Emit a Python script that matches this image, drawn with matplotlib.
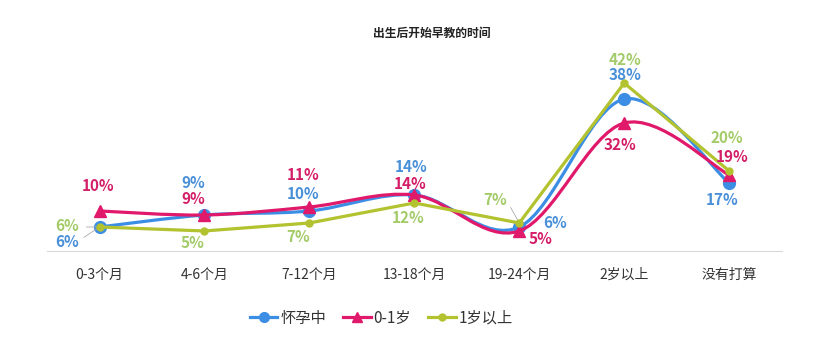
import matplotlib
matplotlib.use('Agg')
import matplotlib.pyplot as plt
from matplotlib.path import Path
from matplotlib.patches import PathPatch
from matplotlib.lines import Line2D

plt.rcParams['font.family'] = ['Noto Sans CJK SC', 'DejaVu Sans']

title = '出生后开始早教的时间'
categories = ['0-3个月', '4-6个月', '7-12个月', '13-18个月', '19-24个月', '2岁以上', '没有打算']
series_names = ['怀孕中', '0-1岁', '1岁以上']
pregnant = [6, 9, 10, 14, 6, 38, 17]
age_0_1 = [10, 9, 11, 14, 5, 32, 19]
age_1_plus = [6, 5, 7, 12, 7, 42, 20]

blue = '#3c8ee4'
pink = '#e0196b'
green = '#b3c22f'
blue_txt = '#4a90d9'
pink_txt = '#d41f68'
green_txt = '#a3cb69'


def smooth_path(xs, ys):
    # bezier smoothing similar to office charts
    pts = list(zip(xs, ys))
    verts = [pts[0]]
    codes = [Path.MOVETO]
    n = len(pts)
    for i in range(n - 1):
        p0 = pts[i - 1] if i > 0 else pts[i]
        p1 = pts[i]
        p2 = pts[i + 1]
        p3 = pts[i + 2] if i + 2 < n else pts[i + 1]
        c1 = (p1[0] + (p2[0] - p0[0]) / 6, p1[1] + (p2[1] - p0[1]) / 6)
        c2 = (p2[0] - (p3[0] - p1[0]) / 6, p2[1] - (p3[1] - p1[1]) / 6)
        verts += [c1, c2, p2]
        codes += [Path.CURVE4] * 3
    return Path(verts, codes)


fig = plt.figure(figsize=(8.31, 3.57), dpi=100)
ax = fig.add_axes([0.0566, 0.297, 0.884, 0.56])
x = list(range(len(categories)))

ax.add_patch(PathPatch(smooth_path(x, pregnant), fill=False, edgecolor=blue, lw=2.3, zorder=2))
ax.plot(x, pregnant, 'o', color=blue, ms=8.5, zorder=3)
ax.add_patch(PathPatch(smooth_path(x, age_0_1), fill=False, edgecolor=pink, lw=2.3, zorder=4))
ax.plot(x, age_0_1, '^', color=pink, ms=8.5, zorder=5)
ax.plot(x, age_1_plus, '-o', color=green, lw=2.3, ms=5, zorder=6)

# label offsets in pixels (dx, dy)
blue_off = [(-32, -15), (-11, 32), (-6, 17), (-3, 28), (36, 4), (1, 24), (-7, -17)]
pink_off = [(-1, 25), (-11, 16), (-6, 32), (-4, 11), (21, -8), (-4, -22), (3, 18)]
green_off = [(-32, 1), (-12, -12), (-11, -14), (-6, -15), (-24, 23), (1, 23), (-2, 33)]

for vals, offs, col in [(pregnant, blue_off, blue_txt), (age_0_1, pink_off, pink_txt),
                        (age_1_plus, green_off, green_txt)]:
    for xi, v, (dx, dy) in zip(x, vals, offs):
        ax.annotate(f'{v}%', (xi, v), xytext=(dx, dy), textcoords='offset pixels',
                    ha='center', va='center', color=col, fontsize=11, fontweight='bold',
                    zorder=7)

# small leader lines
for (xi, v), (dx, dy) in [((0, 6), (-18, -12)), ((0, 6), (-16, 0)), ((4, 7), (-10, 18))]:
    ax.annotate('', (xi, v), xytext=(dx, dy), textcoords='offset pixels',
                arrowprops=dict(arrowstyle='-', color='#aaaaaa', lw=0.6))

ax.set_xlim(-0.5, 6.5)
ax.set_ylim(0, 50)
ax.set_xticks(x)
ax.set_xticklabels(categories, fontsize=10, color='#333333')
ax.tick_params(axis='x', length=0, pad=12)
ax.set_yticks([])
for s in ['top', 'left', 'right']:
    ax.spines[s].set_visible(False)
ax.spines['bottom'].set_color('#d9d9d9')

fig.text(0.52, 0.907, title, ha='center', va='center', fontsize=8.5, fontweight='bold', color='#222222')

handles = [Line2D([], [], color=blue, marker='o', lw=2.3, ms=7),
           Line2D([], [], color=pink, marker='^', lw=2.3, ms=7),
           Line2D([], [], color=green, marker='o', lw=2.3, ms=5)]
fig.legend(handles, series_names, loc='center', bbox_to_anchor=(0.459, 0.109), ncol=3,
           frameon=False, fontsize=11, handlelength=1.8, handletextpad=0.2, columnspacing=1.1,
           labelcolor='#333333')

fig.savefig('out.png', dpi=100)
